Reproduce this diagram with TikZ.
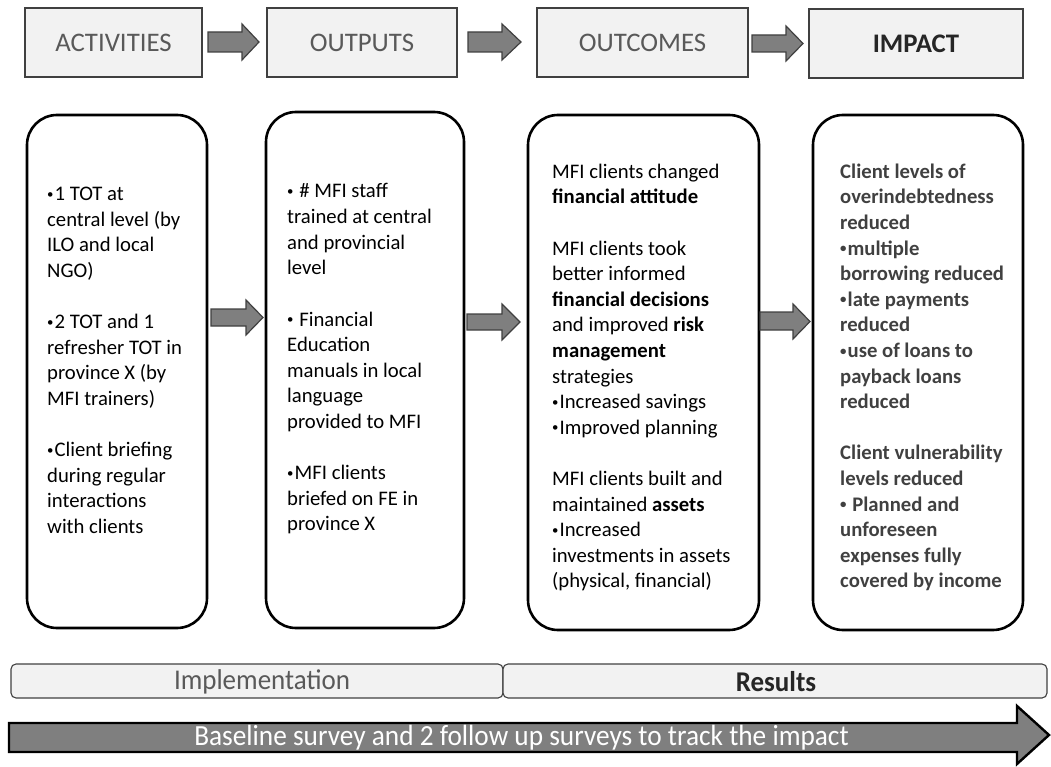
\documentclass[tikz,border=0pt]{standalone}
\usepackage{fontspec}
\setmainfont{Carlito}
\definecolor{panelfill}{HTML}{F2F2F2}
\definecolor{panelline}{HTML}{404040}
\definecolor{arrowfill}{HTML}{7F7F7F}
\definecolor{softtext}{HTML}{595959}
\definecolor{darktext}{HTML}{262626}
\definecolor{impacttext}{HTML}{404040}
\newcommand{\bodyfont}{\fontsize{20.7}{25.6}\selectfont}
\newcommand{\gap}{\\[25.6pt]}
% small bullet, kept at the height of the text's middle
\newcommand{\bul}{\makebox[0.36em][l]{\raisebox{0.12em}{\scalebox{0.62}{•}}}}
\begin{document}
\begin{tikzpicture}[x=1pt,y=-1pt,
  hdr/.style={draw=panelline, fill=panelfill, line width=1.2pt, inner sep=0pt,
    font=\fontsize{26.8}{32}\selectfont, text=softtext},
  panel/.style={draw=black, line width=2.6pt, rounded corners=30pt, inner sep=0pt},
  harrow/.style={draw=panelline, fill=arrowfill, line width=1.2pt, line join=miter},
  bodytext/.style={anchor=base west, inner sep=0pt},
  phase/.style={draw=panelline, fill=panelfill, line width=1.1pt, rounded corners=5pt,
    inner sep=0pt, font=\fontsize{27}{32}\selectfont},
  phaselabel/.style={inner sep=0pt, font=\fontsize{27}{32}\selectfont}
]
\useasboundingbox (0,0) rectangle (1051,767);

% header row
\node[hdr, minimum width=177pt, minimum height=69pt] (act) at (113.5,42.5) {ACTIVITIES};
\node[hdr, minimum width=190pt, minimum height=69pt] (out) at (362,42.5) {OUTPUTS};
\node[hdr, minimum width=211pt, minimum height=69pt] (oc) at (642.5,42.5) {OUTCOMES};
\node[hdr, minimum width=214pt, minimum height=69pt, text=darktext, font=\fontsize{26.8}{32}\selectfont\bfseries] (imp) at (916,43.5) {IMPACT};

% header block arrows
\draw[harrow] (208,32) -- (242,32) -- (242,24) -- (259,42) -- (242,60) -- (242,52) -- (208,52) -- cycle;
\draw[harrow] (468,32) -- (502,32) -- (502,24) -- (521,42) -- (502,60) -- (502,52) -- (468,52) -- cycle;
\draw[harrow] (752,35) -- (786,35) -- (786,26) -- (803,43.5) -- (786,61) -- (786,52) -- (752,52) -- cycle;

% main panels
\node[panel, minimum width=180pt, minimum height=513pt] (p1) at (117,371.5) {};
\node[panel, minimum width=198pt, minimum height=516pt] (p2) at (365,370) {};
\node[panel, minimum width=231pt, minimum height=515pt] (p3) at (643.5,372.5) {};
\node[panel, minimum width=210pt, minimum height=515pt] (p4) at (918,372.5) {};

% block arrows between panels
\draw[harrow] (211,309) -- (246,309) -- (246,300) -- (263,317.5) -- (246,335) -- (246,326) -- (211,326) -- cycle;
\draw[harrow] (467,314) -- (502,314) -- (502,304) -- (520,322) -- (502,340) -- (502,330) -- (467,330) -- cycle;
\draw[harrow] (760,312) -- (793,312) -- (793,304) -- (810,321.5) -- (793,339) -- (793,330) -- (760,330) -- cycle;

% panel texts
\node[bodytext] (t1) at (47,200.5) {\parbox[t]{300pt}{\bodyfont\raggedright
\bul 1 TOT at\\
central level (by\\
ILO and local\\
NGO)\gap
\bul 2 TOT and 1\\
refresher TOT in\\
province X (by\\
MFI trainers)\gap
\bul Client briefing\\
during regular\\
interactions\\
with clients}};

\node[bodytext] (t2) at (287,198) {\parbox[t]{300pt}{\bodyfont\raggedright
\bul\ \# MFI staff\\
trained at central\\
and provincial\\
level\gap
\bul\ Financial\\
Education\\
manuals in local\\
language\\
provided to MFI\gap
\bul MFI clients\\
briefed on FE in\\
province X}};

\node[bodytext] (t3) at (552,178.3) {\parbox[t]{300pt}{\bodyfont\raggedright
MFI clients changed\\
\textbf{financial attitude}\gap
MFI clients took\\
better informed\\
\textbf{financial decisions}\\
and improved \textbf{risk}\\
\textbf{management}\\
strategies\\
\bul Increased savings\\
\bul Improved planning\gap
MFI clients built and\\
maintained \textbf{assets}\\
\bul Increased\\
investments in assets\\
(physical, financial)}};

\node[bodytext, text=impacttext] (t4) at (840,178.3) {\parbox[t]{300pt}{\bodyfont\bfseries\raggedright
Client levels of\\
overindebtedness\\
reduced\\
\bul multiple\\
borrowing reduced\\
\bul late payments\\
reduced\\
\bul use of loans to\\
payback loans\\
reduced\gap
Client vulnerability\\
levels reduced\\
\bul\ Planned and\\
unforeseen\\
expenses fully\\
covered by income}};

% phase bars
\node[phase, minimum width=492pt, minimum height=34pt] (impl) at (257,681) {};
\node[phase, minimum width=544pt, minimum height=34pt] (res) at (775,681) {};
\node[phaselabel, text=softtext] (impltext) at (262,682) {\scalebox{1}[1.06]{Implementation}};
\node[phaselabel, text=darktext, font=\fontsize{27}{32}\selectfont\bfseries] (restext) at (776,682) {\scalebox{1}[1.06]{Results}};

% survey timeline arrow
\draw[fill=arrowfill, draw=black, line width=2.4pt, line join=miter]
  (9,723) -- (1017,723) -- (1017,706) -- (1049,735) -- (1017,764) -- (1017,752) -- (9,752) -- cycle;
\node[text=white, font=\fontsize{27.3}{32}\selectfont, inner sep=0pt] (survey) at (521.5,737.5)
  {\scalebox{1}[1.07]{Baseline survey and 2 follow up surveys to track the impact}};
\end{tikzpicture}
\end{document}
